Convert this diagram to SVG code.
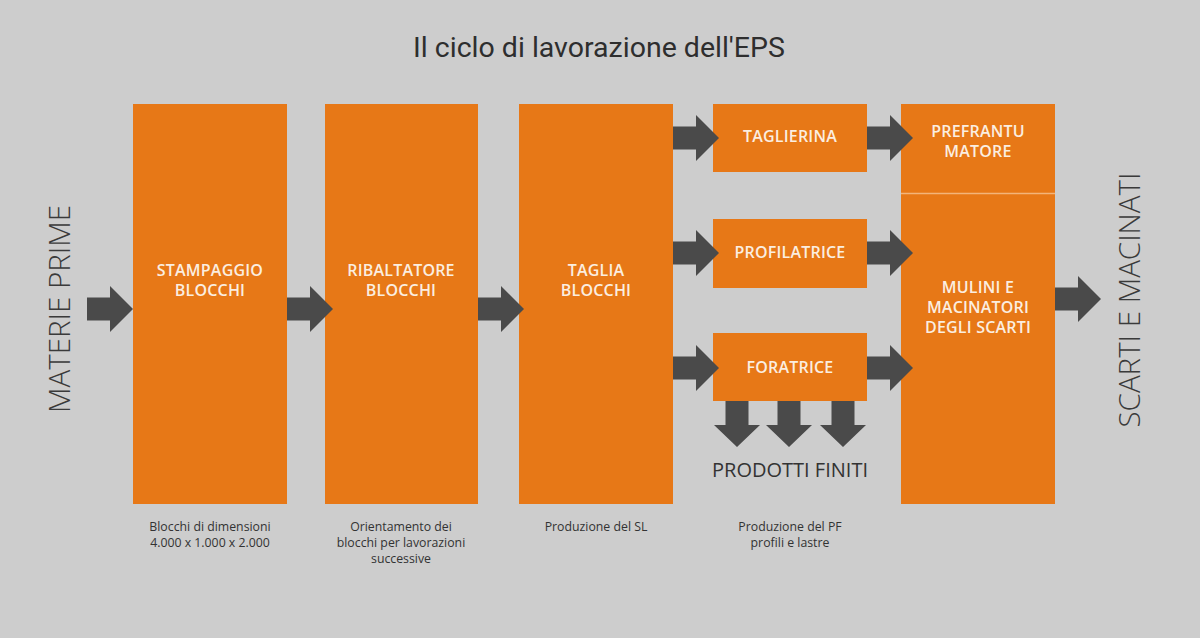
<svg xmlns="http://www.w3.org/2000/svg" width="1200" height="638" viewBox="0 0 1200 638">
<defs>
<style>
.box{fill:#e77817}
.lbl{font-family:"Open Sans","Liberation Sans",sans-serif;font-weight:600;font-size:16px;letter-spacing:0.2px;fill:#fbeee0;text-anchor:middle}
.cap{font-family:"Open Sans","Liberation Sans",sans-serif;font-size:12.3px;fill:#333;text-anchor:middle}
.side{font-family:"Open Sans","Liberation Sans",sans-serif;font-weight:300;font-size:29.5px;fill:#3a3a3a;text-anchor:middle}
.arr{fill:#4a4a4a}
</style>
<path id="ah" d="M0,-11.5 H23 V-23 L46,0 L23,23 V11.5 H0 Z"/>
<path id="av" d="M-11.5,0 V24 H-23 L0,46 L23,24 H11.5 V0 Z"/>
</defs>
<rect width="1200" height="638" fill="#cdcdcd"/>
<text x="599" y="57" font-family="Roboto,'Liberation Sans',sans-serif" font-size="28.5" fill="#2e2e2e" text-anchor="middle">Il ciclo di lavorazione dell'EPS</text>
<text class="side" transform="translate(70,309) rotate(-90)">MATERIE PRIME</text>
<text class="side" transform="translate(1140,300) rotate(-90)">SCARTI E MACINATI</text>
<g id="n1"><rect class="box" x="133" y="104" width="154" height="400"/><text class="lbl" x="210" y="276">STAMPAGGIO<tspan x="210" dy="20">BLOCCHI</tspan></text></g>
<g id="n2"><rect class="box" x="325" y="104" width="153" height="400"/><text class="lbl" x="401" y="276">RIBALTATORE<tspan x="401" dy="20">BLOCCHI</tspan></text></g>
<g id="n3"><rect class="box" x="519" y="104" width="154" height="400"/><text class="lbl" x="596" y="276">TAGLIA<tspan x="596" dy="20">BLOCCHI</tspan></text></g>
<g id="n4"><rect class="box" x="713" y="104" width="154" height="68"/><text class="lbl" x="790" y="142">TAGLIERINA</text></g>
<g id="n5"><rect class="box" x="713" y="219" width="154" height="69"/><text class="lbl" x="790" y="258">PROFILATRICE</text></g>
<g id="n6"><rect class="box" x="713" y="333" width="154" height="68"/><text class="lbl" x="790" y="373">FORATRICE</text></g>
<g id="n7"><rect class="box" x="901" y="104" width="154" height="89"/><text class="lbl" x="978" y="137">PREFRANTU<tspan x="978" dy="20">MATORE</tspan></text></g>
<g id="n8"><rect class="box" x="901" y="194" width="154" height="310"/><text class="lbl" x="978" y="293">MULINI E<tspan x="978" dy="20">MACINATORI</tspan><tspan x="978" dy="20">DEGLI SCARTI</tspan></text></g>
<line x1="901" y1="193.5" x2="1055" y2="193.5" stroke="#f3b47a" stroke-width="1.5"/>
<g id="connectors" class="arr">
<use href="#ah" x="87" y="309"/>
<use href="#ah" x="287" y="309"/>
<use href="#ah" x="478" y="309"/>
<use href="#ah" x="673" y="138"/>
<use href="#ah" x="673" y="253"/>
<use href="#ah" x="673" y="368"/>
<use href="#ah" x="867" y="138"/>
<use href="#ah" x="867" y="253"/>
<use href="#ah" x="867" y="368"/>
<use href="#ah" x="1055" y="299"/>
<use href="#av" x="737" y="401"/>
<use href="#av" x="789" y="401"/>
<use href="#av" x="843" y="401"/>
</g>
<text x="790" y="477" font-family="'Open Sans','Liberation Sans',sans-serif" font-size="20" fill="#333" text-anchor="middle">PRODOTTI FINITI</text>
<g id="captions">
<text class="cap" x="210" y="531">Blocchi di dimensioni<tspan x="210" dy="16">4.000 x 1.000 x 2.000</tspan></text>
<text class="cap" x="401" y="531">Orientamento dei<tspan x="401" dy="16">blocchi per lavorazioni</tspan><tspan x="401" dy="16">successive</tspan></text>
<text class="cap" x="596" y="531">Produzione del SL</text>
<text class="cap" x="790" y="531">Produzione del PF<tspan x="790" dy="16">profili e lastre</tspan></text>
</g>
</svg>
